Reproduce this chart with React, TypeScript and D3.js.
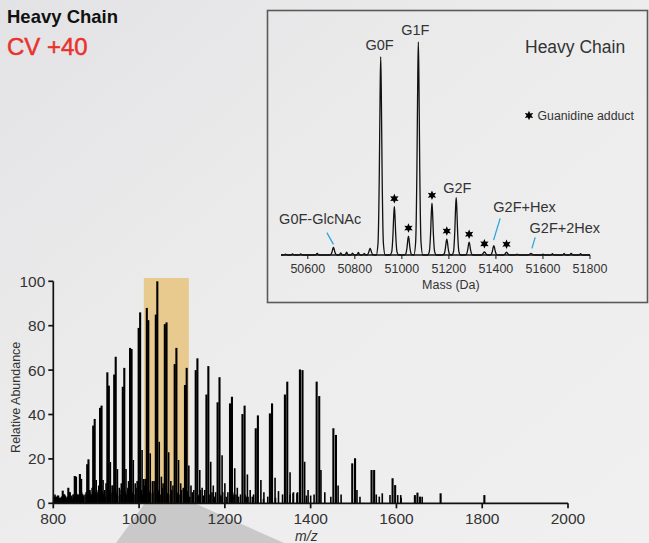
import React from 'react';
import * as d3 from 'd3';

const W = 649;
const H = 543;

// ---------- Main spectrum (m/z) ----------
const clusterMz = [808, 822, 835, 850, 862, 879, 893, 909, 926, 942, 962, 979, 999, 1018, 1039, 1060, 1083, 1107, 1132, 1157, 1183, 1212, 1241, 1272, 1305, 1340, 1375, 1414, 1453, 1497, 1542, 1591, 1643, 1703, 1805];
const g0fH = [3, 5.7, 7, 12.3, 13.2, 17.6, 35, 43, 59, 58, 52.5, 70, 79, 88, 85, 80.7, 62.7, 53.3, 60, 49, 45.5, 45, 40.2, 33.8, 40.5, 49, 60.3, 54.8, 33.8, 18, 15, 11.3, 3.7, 4.5, 3.7];
const g1fMz = [811, 825, 838, 853, 865, 882, 896.5, 912.5, 929.5, 945.5, 965.5, 982.5, 1002.5, 1021.5, 1042.5, 1064, 1087, 1111, 1136, 1161.5, 1187.5, 1216.5, 1246, 1277, 1310, 1345.5, 1381, 1420, 1459, 1503.5, 1548, 1597, 1649, 1706, 1808];
const g1fH = [2, 4, 5, 12, 11, 19.8, 38, 44, 53, 66, 61, 69.5, 86, 82.5, 100, 81.5, 70, 61, 65.3, 61.8, 56.8, 48, 44, 39.6, 45, 54.8, 60, 48.3, 30.8, 20.3, 15, 8.2, 4.8, 0, 0];
const tailMz = [814, 828, 841, 856, 868, 885.5, 900, 916, 933, 949.5, 969.5, 986.5, 1007, 1026, 1047, 1069, 1092, 1116, 1141.5, 1167, 1193.5, 1223, 1252.5, 1284, 1317, 1352, 1386, 1424, 1464, 1508, 1553, 1603, 1655, 1710, 1812];
const tailH = [1, 2, 3, 4, 4, 6, 10.5, 10.5, 18.6, 15.4, 15.4, 19.5, 24, 22.5, 27.7, 23, 19.5, 17, 15, 18.7, 21.7, 15.8, 13, 10.5, 11.5, 14, 18.7, 15, 8, 6, 4, 3.7, 3, 0, 0];
const tail2Mz = [817, 831, 844, 859, 871, 889, 904, 920, 937, 954, 974, 991, 1011, 1031, 1052, 1074, 1097, 1121, 1147, 1173, 1200, 1229, 1259, 1291, 1325, 1360, 1394, 1433, 1471, 1515, 1560, 1611, 1662, 1715, 1818];
const tail2H = [1, 1.5, 2, 3, 3, 4, 5, 6, 8, 7, 7, 9, 11, 10, 12, 10, 9, 8, 7, 8, 9, 7, 6, 5, 5.5, 5, 6, 5, 4, 3, 3, 2.5, 0, 0, 0];
const preMz = [806, 820, 833, 847.5, 859.5, 876.5, 890.5, 906, 923, 939, 958.5, 975.5, 995.5, 1014.5, 1035, 1056, 1079, 1103, 1127.5, 1153, 1178.5, 1207, 1236.5, 1267, 1300, 1334.5, 1369.5, 1408, 1447, 1491, 1536, 1585, 1637, 0, 0];
const preH = [2, 3, 3, 4, 4, 5, 7, 8, 9, 8, 9, 10, 10, 11, 10, 9, 8, 7, 6, 6, 5, 5, 4, 4, 3, 4, 5, 4, 3, 0, 0, 0, 0, 0, 0];
const noiseMz = [801, 802, 804, 805, 810, 812, 814.5, 816, 819, 826, 827.5, 829, 832, 839, 841.5, 843, 846, 851.5, 854, 857, 866, 868.5, 870, 874, 883, 885, 887, 890, 897, 899, 901, 905, 913, 915, 917, 921, 930, 932, 934, 938, 946, 948, 950, 955, 958, 966, 968, 970, 974, 983, 985, 988, 993, 1003, 1005.5, 1008, 1013, 1022, 1024, 1027, 1032, 1044, 1046, 1049, 1054, 1064, 1066.5, 1069, 1076, 1088, 1090, 1093, 1099, 1112, 1114, 1118, 1124, 1137, 1139, 1143, 1150, 1163, 1166, 1170, 1176, 1188, 1191, 1195, 1203, 1218, 1221, 1226, 1232, 1247, 1250, 1254, 1264, 1290, 1318, 1352, 1359, 1368, 1390, 1400, 1567, 1585, 1610, 1655, 1660];
const noiseH = [3, 3, 4, 3, 3.5, 3.5, 2.5, 2.5, 3, 4, 3.5, 3, 2.5, 5, 3.5, 3, 4, 4, 4.5, 3, 5, 4, 3.5, 4, 6, 5, 4, 3, 5, 4.5, 4, 6, 5.5, 5, 4, 3, 6, 5, 4.5, 5, 5, 4, 3.5, 6, 4, 5.5, 5, 4, 6, 5, 4.5, 4, 7, 5, 6, 4, 8, 6, 5, 4.5, 5, 6, 5, 4, 7, 5, 4.5, 4, 6, 5, 4.5, 4, 6, 5.5, 4, 3, 5, 4, 3.5, 6, 3.5, 4, 3.5, 5, 3, 4, 3.5, 5, 3, 5, 4, 4, 3, 4, 3, 3, 3, 2, 2.5, 4, 4.5, 4.5, 3.5, 3.5, 4.5, 3.7, 3.7, 3, 3];

const xTicks = [800, 1000, 1200, 1400, 1600, 1800, 2000];
const yTicks = [0, 20, 40, 60, 80, 100];
const highlightRange = [1011, 1116];

// ---------- Inset: deconvoluted mass ----------
const insetMass = [50910, 51070, 50968, 51028, 51128, 51191, 51231, 51286, 51351, 51391, 51445, 51549, 50709, 50865];
const insetH = [93, 100, 22.7, 8.9, 24.3, 7.5, 26.9, 6, 1.5, 4.4, 1.3, 0.7, 3.6, 3.1];
const insetNoiseMass = [50505, 50535, 50570, 50640, 50740, 50765, 50790, 50815, 50840, 51490, 51600, 51640, 51690, 51720, 51760];
const insetNoiseH = [0.4, 0.5, 0.5, 0.8, 1.0, 1.3, 0.9, 1.2, 0.7, 0.4, 0.4, 0.6, 0.7, 0.8, 0.6];
const starMass = [50968, 51028, 51128, 51191, 51286, 51351, 51445];
const insetTicks = [50600, 50800, 51000, 51200, 51400, 51600, 51800];
const insetDomain = [50486, 51800];

const glycoLabels = [
  { text: 'G0F', mass: 50905, h: 96.2, anchor: 'middle' },
  { text: 'G1F', mass: 51057, h: 103.3, anchor: 'middle' },
  { text: 'G2F', mass: 51236, h: 29, anchor: 'middle' },
  { text: 'G0F-GlcNAc', mass: 50478, h: 14.4, anchor: 'start' },
  { text: 'G2F+Hex', mass: 51389, h: 20.3, anchor: 'start' },
  { text: 'G2F+2Hex', mass: 51543, h: 10.2, anchor: 'start' },
];
const leaders = [
  { m1: 50681, h1: 10.5, m2: 50709, h2: 5 },
  { m1: 51418, h1: 17.2, m2: 51390, h2: 7 },
  { m1: 51567, h1: 8.3, m2: 51553, h2: 3.1 },
];

const FONT = '"Liberation Sans", Arial, Helvetica, sans-serif';

function starPath(r: number, n = 6): string {
  const pts: string[] = [];
  for (let i = 0; i < n * 2; i++) {
    const rr = i % 2 === 0 ? r : r * 0.5;
    const a = (Math.PI * i) / n - Math.PI / 2;
    pts.push(`${(rr * Math.cos(a)).toFixed(2)},${(rr * Math.sin(a)).toFixed(2)}`);
  }
  return 'M' + pts.join('L') + 'Z';
}

function peakPoints(m: number, h: number, w: number): [number, number][] {
  return [
    [m - w, 0],
    [m - 0.6 * w, 0.06 * h],
    [m - 0.32 * w, 0.4 * h],
    [m - 0.12 * w, 0.85 * h],
    [m, h],
    [m + 0.12 * w, 0.85 * h],
    [m + 0.32 * w, 0.4 * h],
    [m + 0.6 * w, 0.06 * h],
    [m + w, 0],
  ];
}

export default function App() {
  const x = d3.scaleLinear().domain([800, 2000]).range([53.3, 568]);
  const y = d3.scaleLinear().domain([0, 100]).range([503.3, 281.3]);

  const main: { mz: number; h: number }[] = [];
  const minor: { mz: number; h: number }[] = [];
  clusterMz.forEach((m, i) => {
    main.push({ mz: m, h: g0fH[i] });
    main.push({ mz: g1fMz[i], h: g1fH[i] });
    minor.push({ mz: tailMz[i], h: tailH[i] });
    minor.push({ mz: tail2Mz[i], h: tail2H[i] });
    minor.push({ mz: preMz[i], h: preH[i] });
  });
  noiseMz.forEach((m, i) => minor.push({ mz: m, h: noiseH[i] }));

  const ix = d3.scaleLinear().domain(insetDomain).range([281, 590]);
  const iy = d3.scaleLinear().domain([0, 100]).range([255, 42]);

  let pts: [number, number][] = [[insetDomain[0], 0]];
  insetMass.forEach((m, i) => (pts = pts.concat(peakPoints(m, insetH[i], 19))));
  insetNoiseMass.forEach((m, i) => (pts = pts.concat(peakPoints(m, insetNoiseH[i], 11))));
  pts.push([insetDomain[1], 0]);
  pts.sort((a, b) => a[0] - b[0]);
  const trace = d3
    .line<[number, number]>()
    .x((d) => ix(d[0]))
    .y((d) => iy(d[1]))
    .curve(d3.curveMonotoneX)(pts) as string;

  const heightOf = (m: number) => {
    const i = insetMass.indexOf(m);
    return i >= 0 ? insetH[i] : 0;
  };
  const star = starPath(4.8);

  return (
    <svg
      width={W}
      height={H}
      viewBox={`0 0 ${W} ${H}`}
      style={{ position: 'absolute', left: 0, top: 0, display: 'block' }}
      fontFamily={FONT}
    >
      <defs>
        <linearGradient id="bg" x1="0" y1="0" x2="1" y2="1">
          <stop offset="0" stopColor="#e3e3e5" />
          <stop offset="0.45" stopColor="#ececed" />
          <stop offset="1" stopColor="#f0f0f0" />
        </linearGradient>
      </defs>
      <rect x={0} y={0} width={W} height={H} fill="url(#bg)" />

      <text x={7} y={23.3} fontSize={18.5} fontWeight="bold" fill="#111">Heavy Chain</text>
      <text x={7} y={55} fontSize={24} fill="#e8322e" stroke="#e8322e" strokeWidth={0.5}>CV +40</text>

      <polygon points="145,503 194,503 284,543 116,543" fill="#c9c9c9" />

      <rect
        x={x(highlightRange[0])}
        y={y(101.5)}
        width={x(highlightRange[1]) - x(highlightRange[0])}
        height={y(0) - y(101.5)}
        fill="#e8c98e"
      />

      <g stroke="#000" strokeWidth={1.6}>
        {minor.filter((p) => p.h > 0 && p.mz > 0).map((p, i) => (
          <line key={'m' + i} x1={x(p.mz)} x2={x(p.mz)} y1={y(0)} y2={y(p.h)} />
        ))}
      </g>
      <g stroke="#000" strokeWidth={2.1}>
        {main.filter((p) => p.h > 0).map((p, i) => (
          <line key={'p' + i} x1={x(p.mz)} x2={x(p.mz)} y1={y(0)} y2={y(p.h)} />
        ))}
      </g>

      <g stroke="#111" strokeWidth={1.7} fill="none">
        <line x1={x(800)} x2={x(2000)} y1={y(0)} y2={y(0)} />
        <line x1={x(800)} x2={x(800)} y1={y(0)} y2={y(100)} />
        {yTicks.map((t) => (
          <line key={'yt' + t} x1={x(800) - 5} x2={x(800)} y1={y(t)} y2={y(t)} />
        ))}
        {xTicks.map((t) => (
          <line key={'xt' + t} x1={x(t)} x2={x(t)} y1={y(0)} y2={y(0) + 5} />
        ))}
      </g>
      <g fontSize={15.5} fill="#333">
        {yTicks.map((t) => (
          <text key={'yl' + t} x={x(800) - 8} y={y(t)} dy="0.35em" textAnchor="end">{t}</text>
        ))}
        {xTicks.map((t) => (
          <text key={'xl' + t} x={x(t)} y={524} textAnchor="middle">{t}</text>
        ))}
      </g>
      <text x={x(1390)} y={541} fontSize={14} fontStyle="italic" textAnchor="middle" fill="#333">m/z</text>
      <text
        transform={`translate(19.5,${(y(0) + y(100)) / 2 + 5}) rotate(-90)`}
        fontSize={12.5}
        textAnchor="middle"
        fill="#333"
      >
        Relative Abundance
      </text>

      <rect x={267.5} y={10.5} width={380} height={292} fill="none" stroke="#5a5a5a" strokeWidth={1.6} />
      <path d={trace} fill="none" stroke="#111" strokeWidth={1.3} />
      <line x1={ix(insetDomain[0])} x2={ix(insetDomain[1])} y1={iy(0)} y2={iy(0)} stroke="#111" strokeWidth={1.5} />
      {insetTicks.map((t) => (
        <line key={'it' + t} x1={ix(t)} x2={ix(t)} y1={iy(0)} y2={iy(0) + 4} stroke="#111" strokeWidth={1} />
      ))}
      <g fontSize={12.5} fill="#333">
        {insetTicks.map((t) => (
          <text key={'il' + t} x={ix(t)} y={272.5} textAnchor="middle">{t}</text>
        ))}
        <text x={ix(51200) + 2} y={289} textAnchor="middle">Mass (Da)</text>
      </g>
      {starMass.map((m) => (
        <path key={'s' + m} d={star} transform={`translate(${ix(m)},${iy(heightOf(m)) - 8})`} fill="#000" />
      ))}
      <g stroke="#2aa7df" strokeWidth={1.3}>
        {leaders.map((l, i) => (
          <line key={'ld' + i} x1={ix(l.m1)} y1={iy(l.h1)} x2={ix(l.m2)} y2={iy(l.h2)} />
        ))}
      </g>
      <g fontSize={14.5} fill="#333">
        {glycoLabels.map((l) => (
          <text key={l.text} x={ix(l.mass)} y={iy(l.h)} textAnchor={l.anchor as any}>{l.text}</text>
        ))}
      </g>
      <text x={525} y={53.3} fontSize={17.5} fill="#333">Heavy Chain</text>
      <path d={star} transform="translate(529,115.5)" fill="#000" />
      <text x={537.5} y={119.5} fontSize={12.3} fill="#333">Guanidine adduct</text>
    </svg>
  );
}
